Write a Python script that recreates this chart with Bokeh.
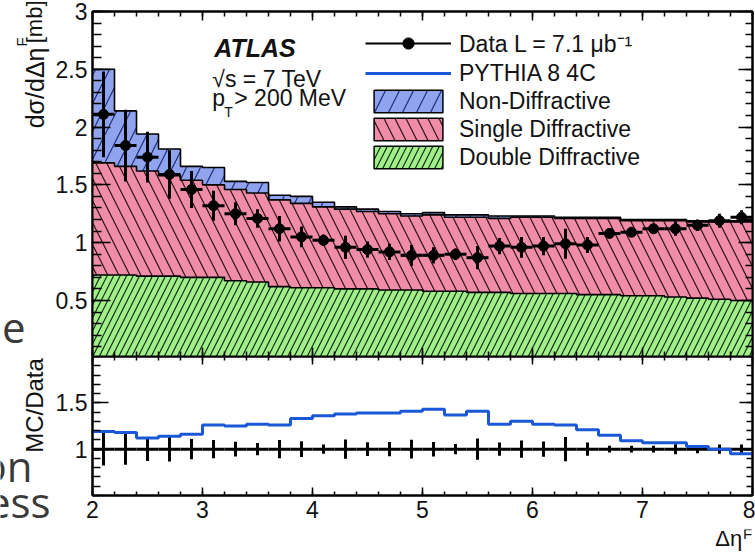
import math
from bokeh.plotting import figure
from bokeh.models import Range1d, FixedTicker, LinearAxis, Legend, LegendItem
from bokeh.core.properties import value
from bokeh.layouts import column, row
from bokeh.embed import file_html
from bokeh.resources import INLINE

# ---------------- data ----------------
bin_edges = [2.0, 2.2, 2.4, 2.6, 2.8, 3.0, 3.2, 3.4, 3.6, 3.8, 4.0, 4.2, 4.4, 4.6, 4.8,
             5.0, 5.2, 5.4, 5.6, 5.8, 6.0, 6.2, 6.4, 6.6, 6.8, 7.0, 7.2, 7.4, 7.6, 7.8, 8.0]
# stacked PYTHIA 8 4C prediction (cumulative heights)
stack_nd = [2.50, 2.14, 1.94, 1.81, 1.66, 1.65, 1.53, 1.52, 1.41, 1.40, 1.35, 1.31, 1.29, 1.27, 1.25,
            1.26, 1.24, 1.24, 1.23, 1.23, 1.23, 1.22, 1.22, 1.22, 1.20, 1.20, 1.20, 1.19, 1.19, 1.19]
stack_sd = [1.69, 1.66, 1.62, 1.58, 1.54, 1.50, 1.46, 1.43, 1.37, 1.34, 1.31, 1.29, 1.27, 1.25, 1.23,
            1.24, 1.22, 1.22, 1.21, 1.22, 1.22, 1.21, 1.21, 1.21, 1.19, 1.19, 1.19, 1.18, 1.18, 1.18]
stack_dd = [0.72, 0.72, 0.71, 0.71, 0.70, 0.70, 0.67, 0.66, 0.62, 0.61, 0.61, 0.60, 0.60, 0.59, 0.59,
            0.58, 0.58, 0.57, 0.57, 0.56, 0.56, 0.56, 0.55, 0.55, 0.54, 0.54, 0.53, 0.52, 0.51, 0.50]
data_vals = [2.11, 1.84, 1.74, 1.59, 1.46, 1.32, 1.25, 1.21, 1.12, 1.05, 1.02, 0.96, 0.94, 0.92, 0.89,
             0.89, 0.90, 0.87, 0.97, 0.96, 0.97, 0.99, 0.98, 1.08, 1.09, 1.12, 1.12, 1.15, 1.19, 1.22]
data_err = [0.37, 0.31, 0.22, 0.21, 0.16, 0.13, 0.10, 0.08, 0.11, 0.09, 0.05, 0.10, 0.07, 0.07, 0.09,
            0.07, 0.05, 0.10, 0.07, 0.09, 0.08, 0.13, 0.07, 0.04, 0.04, 0.04, 0.06, 0.05, 0.06, 0.06]
mc_over_data = [1.19, 1.18, 1.12, 1.14, 1.16, 1.26, 1.25, 1.27, 1.26, 1.33, 1.36, 1.38, 1.39, 1.39, 1.41,
                1.43, 1.37, 1.41, 1.27, 1.30, 1.27, 1.26, 1.21, 1.15, 1.09, 1.07, 1.07, 1.03, 1.00, 0.95]

x_ticks = [2, 3, 4, 5, 6, 7, 8]
x_minor = [round(2 + 0.2 * i, 1) for i in range(31)]
y_ticks_top = [0.5, 1, 1.5, 2, 2.5, 3]
y_minor_top = [round(0.1 * i, 1) for i in range(1, 31)]
y_ticks_ratio = [1, 1.5]
y_minor_ratio = [round(0.5 + 0.1 * i, 1) for i in range(16)]

legend_labels = ["Data L = 7.1 \u03bcb\u207b\u00b9", "PYTHIA 8 4C", "Non-Diffractive",
                 "Single Diffractive", "Double Diffractive"]

# ---------------- styling ----------------
FONT = "Liberation Sans"
SLIDE_FONT = "Open Sans"
TXT = "#121212"
C_ND = "#8fa4ec"
C_SD = "#ef8ca7"
C_DD = "#a2ee8b"
C_RATIO = "#1b58d8"
H_ND = dict(hatch_pattern="/", hatch_scale=28, hatch_color="#1c2a78", hatch_weight=1.2)
H_SD = dict(hatch_pattern="\\", hatch_scale=22, hatch_color="#2a1010", hatch_weight=1.2)
H_DD = dict(hatch_pattern="/", hatch_scale=13, hatch_color="#103010", hatch_weight=1.2)

STRIP_W = 52
MAIN_W = 755 - STRIP_W
LEFT, RIGHT = 39, 3
TOP_H, BOT_H, BOT_B = 356, 173, 34
FOOT_H = 552 - TOP_H - BOT_H

lo = bin_edges[:-1]
hi = bin_edges[1:]
centers = [(a + b) / 2 for a, b in zip(lo, hi)]


def steps(vals):
    xs, ys = [], []
    for a, b, v in zip(lo, hi, vals):
        xs += [a, b]
        ys += [v, v]
    return xs, ys


def add_axis(fig, loc, ticks, minor, labels, tin, mtin):
    ax = LinearAxis(ticker=FixedTicker(ticks=ticks, minor_ticks=minor),
                    axis_line_color="black", axis_line_width=2,
                    major_tick_in=tin, major_tick_out=0,
                    minor_tick_in=mtin, minor_tick_out=0,
                    major_tick_line_color="black", minor_tick_line_color="black",
                    major_tick_line_width=1.5, minor_tick_line_width=1.5)
    if labels:
        ax.major_label_text_font = FONT
        ax.major_label_text_font_size = "23px"
        ax.major_label_text_color = TXT
        ax.major_label_standoff = 5
    else:
        ax.major_label_text_font_size = "0px"
        ax.major_label_text_color = None
        ax.major_label_standoff = 0
    fig.add_layout(ax, loc)
    return ax


def style(fig, outline=True):
    fig.outline_line_color = "black" if outline else None
    fig.outline_line_width = 2
    fig.background_fill_color = "white"
    fig.border_fill_color = "white"


def txt(fig, x, y, s, size, font=FONT, color=TXT, **kw):
    fig.text(x=[x], y=[y], text=[s], text_font=value(font), text_font_size=value(f"{size}px"),
             text_color=color, **kw)


# ---------------- top panel ----------------
top = figure(width=MAIN_W, height=TOP_H, x_range=Range1d(2, 8), y_range=Range1d(0.015, 3.0),
             output_backend="svg", toolbar_location=None,
             x_axis_location=None, y_axis_location=None,
             min_border_left=LEFT, min_border_right=RIGHT, min_border_top=11, min_border_bottom=0)
style(top)
add_axis(top, "left", y_ticks_top, y_minor_top, True, 18, 9)
add_axis(top, "right", y_ticks_top, y_minor_top, False, 14, 7)
add_axis(top, "below", x_ticks, x_minor, False, 9, 5)
add_axis(top, "above", x_ticks, x_minor, False, 9, 5)

for vals, col, hatch in [(stack_nd, C_ND, H_ND), (stack_sd, C_SD, H_SD), (stack_dd, C_DD, H_DD)]:
    xs, ys = steps(vals)
    top.varea(x=xs, y1=[0] * len(xs), y2=ys, fill_color=col, **hatch)
    top.line(x=xs, y=ys, line_color="black", line_width=1.6)

# data points
top.segment(x0=lo, y0=data_vals, x1=hi, y1=data_vals, line_color="black", line_width=3)
top.segment(x0=centers, y0=[d - e for d, e in zip(data_vals, data_err)],
            x1=centers, y1=[d + e for d, e in zip(data_vals, data_err)],
            line_color="black", line_width=3)
top.scatter(x=centers, y=data_vals, size=10, marker="circle", color="black")

# hidden renderers that only give the legend its glyph styles
lg_line = top.line(x=centers, y=data_vals, line_color="black", line_width=2, visible=False)
lg_mark = top.scatter(x=centers, y=data_vals, size=8, marker="circle", color="black", visible=False)
lg_mc = top.line(x=centers, y=stack_nd, line_color=C_RATIO, line_width=3, visible=False)
lg_nd = top.quad(left=lo, right=hi, top=stack_nd, bottom=0, fill_color=C_ND, line_color="black",
                 line_width=1.5, visible=False, **H_ND)
lg_sd = top.quad(left=lo, right=hi, top=stack_sd, bottom=0, fill_color=C_SD, line_color="black",
                 line_width=1.5, visible=False, **H_SD)
lg_dd = top.quad(left=lo, right=hi, top=stack_dd, bottom=0, fill_color=C_DD, line_color="black",
                 line_width=1.5, visible=False, **H_DD)

legend = Legend(items=[LegendItem(label=legend_labels[0], renderers=[lg_line, lg_mark]),
                       LegendItem(label=legend_labels[1], renderers=[lg_mc]),
                       LegendItem(label=legend_labels[2], renderers=[lg_nd]),
                       LegendItem(label=legend_labels[3], renderers=[lg_sd]),
                       LegendItem(label=legend_labels[4], renderers=[lg_dd])],
                location=(273, 185), orientation="vertical",
                glyph_width=86, glyph_height=28, label_height=28, label_standoff=8,
                spacing=0, padding=0, margin=0,
                border_line_color=None, background_fill_alpha=0,
                inactive_fill_alpha=0,
                label_text_font=FONT, label_text_font_size="23px", label_text_color=TXT)
top.add_layout(legend)


# canvas-pixel -> data helpers for in-frame text placement
def tx(px):
    return 2 + (px - 91) / (661 / 6)


def ty(py):
    return 3.0 - (py - 11) / (345 / 2.985)


txt(top, tx(213), ty(61), "ATLAS", 25, text_font_style="bold italic")
txt(top, tx(211), ty(91), "\u221as = 7 TeV", 23)
txt(top, tx(211), ty(110), "p", 23)
txt(top, tx(223), ty(119), "T", 14)
txt(top, tx(233), ty(110), "> 200 MeV", 23)

# ---------------- ratio panel ----------------
bot = figure(width=MAIN_W, height=BOT_H, x_range=top.x_range, y_range=Range1d(0.5, 2.0),
             output_backend="svg", toolbar_location=None,
             x_axis_location=None, y_axis_location=None,
             min_border_left=LEFT, min_border_right=RIGHT, min_border_top=0, min_border_bottom=BOT_B)
style(bot)
add_axis(bot, "left", y_ticks_ratio, y_minor_ratio, True, 16, 8)
add_axis(bot, "right", y_ticks_ratio, y_minor_ratio, False, 13, 6)
add_axis(bot, "below", x_ticks, x_minor, True, 8, 4)
add_axis(bot, "above", x_ticks, x_minor, False, 8, 4)

ratio_data = [d / d for d in data_vals]
ratio_err = [e / d for d, e in zip(data_vals, data_err)]
bot.segment(x0=lo, y0=ratio_data, x1=hi, y1=ratio_data, line_color="black", line_width=3)
bot.segment(x0=centers, y0=[r - e for r, e in zip(ratio_data, ratio_err)],
            x1=centers, y1=[r + e for r, e in zip(ratio_data, ratio_err)],
            line_color="black", line_width=3)
rx, ry = steps(mc_over_data)
bot.line(x=rx, y=ry, line_color=C_RATIO, line_width=3)

# ---------------- footer strip (x-axis title) ----------------
foot = figure(width=MAIN_W, height=FOOT_H, x_range=Range1d(0, MAIN_W), y_range=Range1d(FOOT_H, 0),
              output_backend="svg", toolbar_location=None,
              x_axis_location=None, y_axis_location=None,
              min_border_left=0, min_border_right=0, min_border_top=0, min_border_bottom=0)
style(foot, outline=False)
foot_top = TOP_H + BOT_H
txt(foot, 744 - STRIP_W, 550 - foot_top, "\u0394\u03b7", 22, text_align="right")
txt(foot, 745 - STRIP_W, 541 - foot_top, "F", 15)

# ---------------- left strip (y titles + slide text fragments) ----------------
side = figure(width=STRIP_W, height=552, x_range=Range1d(0, STRIP_W), y_range=Range1d(552, 0),
              output_backend="svg", toolbar_location=None,
              x_axis_location=None, y_axis_location=None,
              min_border_left=0, min_border_right=0, min_border_top=0, min_border_bottom=0)
style(side, outline=False)
rot = math.pi / 2
txt(side, 34, 47, "d\u03c3/d\u0394\u03b7", 25, angle=rot, text_align="right", text_baseline="middle")
txt(side, 21, 46, "F", 15, angle=rot, text_align="left", text_baseline="middle")
txt(side, 34, 0, "[mb]", 22, angle=rot, text_align="right", text_baseline="middle")
txt(side, 34, 405, "MC/Data", 24, angle=rot, text_align="center", text_baseline="middle")
txt(side, 25, 342, "e", 42, font=SLIDE_FONT, color="#3a3a3a", text_align="right")
txt(side, 32, 493, "on", 42, font=SLIDE_FONT, color="#3a3a3a", text_align="right")
txt(side, 50, 529, "ess", 42, font=SLIDE_FONT, color="#3a3a3a", text_align="right")

for f in (top, bot, foot, side):
    f.grid.visible = False

layout = row(side, column(top, bot, foot, spacing=0), spacing=0)
open("out.html", "w").write(file_html(layout, INLINE))
